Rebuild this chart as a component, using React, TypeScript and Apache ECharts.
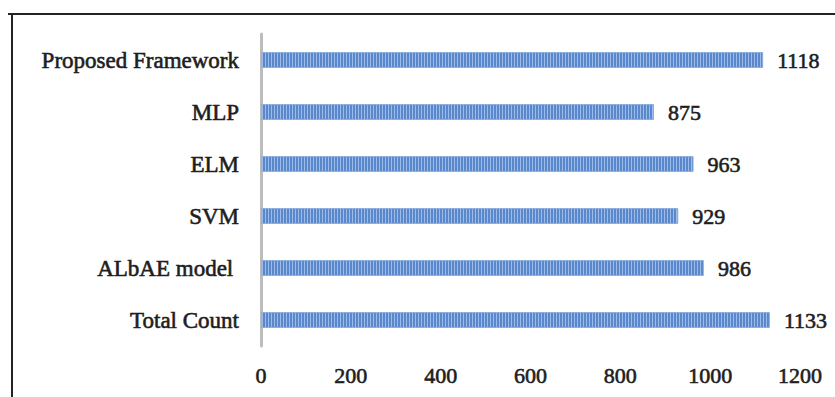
import React, { useEffect, useRef } from "react";
import * as echarts from "echarts";

const categories = ["Total Count", "ALbAE model ", "SVM", "ELM", "MLP", "Proposed Framework"];
const values = [1133, 986, 929, 963, 875, 1118];
const xTicks = [0, 200, 400, 600, 800, 1000, 1200];

function makePattern(): HTMLCanvasElement {
  const c = document.createElement("canvas");
  c.width = 3;
  c.height = 16;
  const ctx = c.getContext("2d")!;
  ctx.fillStyle = "#5a88cc";
  ctx.fillRect(0, 0, 3, 16);
  ctx.fillStyle = "#9dbbe6";
  ctx.fillRect(1, 0, 1, 16);
  return c;
}

export default function App() {
  const ref = useRef<HTMLDivElement>(null);
  useEffect(() => {
    if (!ref.current) return;
    const chart = echarts.init(ref.current, null, { renderer: "svg" });
    const font = "'Liberation Serif', 'Times New Roman', serif";
    const ink = "#1e1e1e";
    chart.setOption({
      animation: false,
      backgroundColor: "#ffffff",
      grid: { left: 261, right: 35, top: 34, bottom: 51, containLabel: false },
      xAxis: {
        type: "value",
        min: xTicks[0],
        max: xTicks[xTicks.length - 1],
        interval: 200,
        axisLine: { show: false },
        axisTick: { show: false },
        splitLine: { show: false },
        axisLabel: {
          margin: 18,
          color: ink,
          fontFamily: font,
          fontSize: 22,
          textBorderColor: ink,
          textBorderWidth: 0.6,
          formatter: (v: number) => String(v),
        },
      },
      yAxis: {
        type: "category",
        data: categories,
        axisLine: { show: true, lineStyle: { color: "#bdbdbd", width: 3 } },
        axisTick: { show: false },
        axisLabel: {
          margin: 22,
          color: ink,
          fontFamily: font,
          fontSize: 23,
          textBorderColor: ink,
          textBorderWidth: 0.6,
        },
      },
      series: [
        {
          type: "bar",
          data: values,
          barWidth: 16,
          itemStyle: {
            color: { image: makePattern(), repeat: "repeat" },
            borderColor: "#8fb0de",
            borderWidth: 1,
          },
          label: {
            show: true,
            position: "right",
            distance: 14,
            color: ink,
            fontFamily: font,
            fontSize: 22,
            textBorderColor: ink,
            textBorderWidth: 0.6,
          },
        },
      ],
      graphic: [
        {
          type: "line",
          shape: { x1: 8, y1: 14, x2: 835, y2: 14 },
          style: { stroke: "#222", lineWidth: 2 },
        },
        {
          type: "line",
          shape: { x1: 12, y1: 14, x2: 12, y2: 397 },
          style: { stroke: "#222", lineWidth: 2 },
        },
      ],
    });
    return () => chart.dispose();
  }, []);
  return (
    <div
      ref={ref}
      style={{ position: "absolute", left: 0, top: 0, width: 835, height: 397 }}
    />
  );
}
